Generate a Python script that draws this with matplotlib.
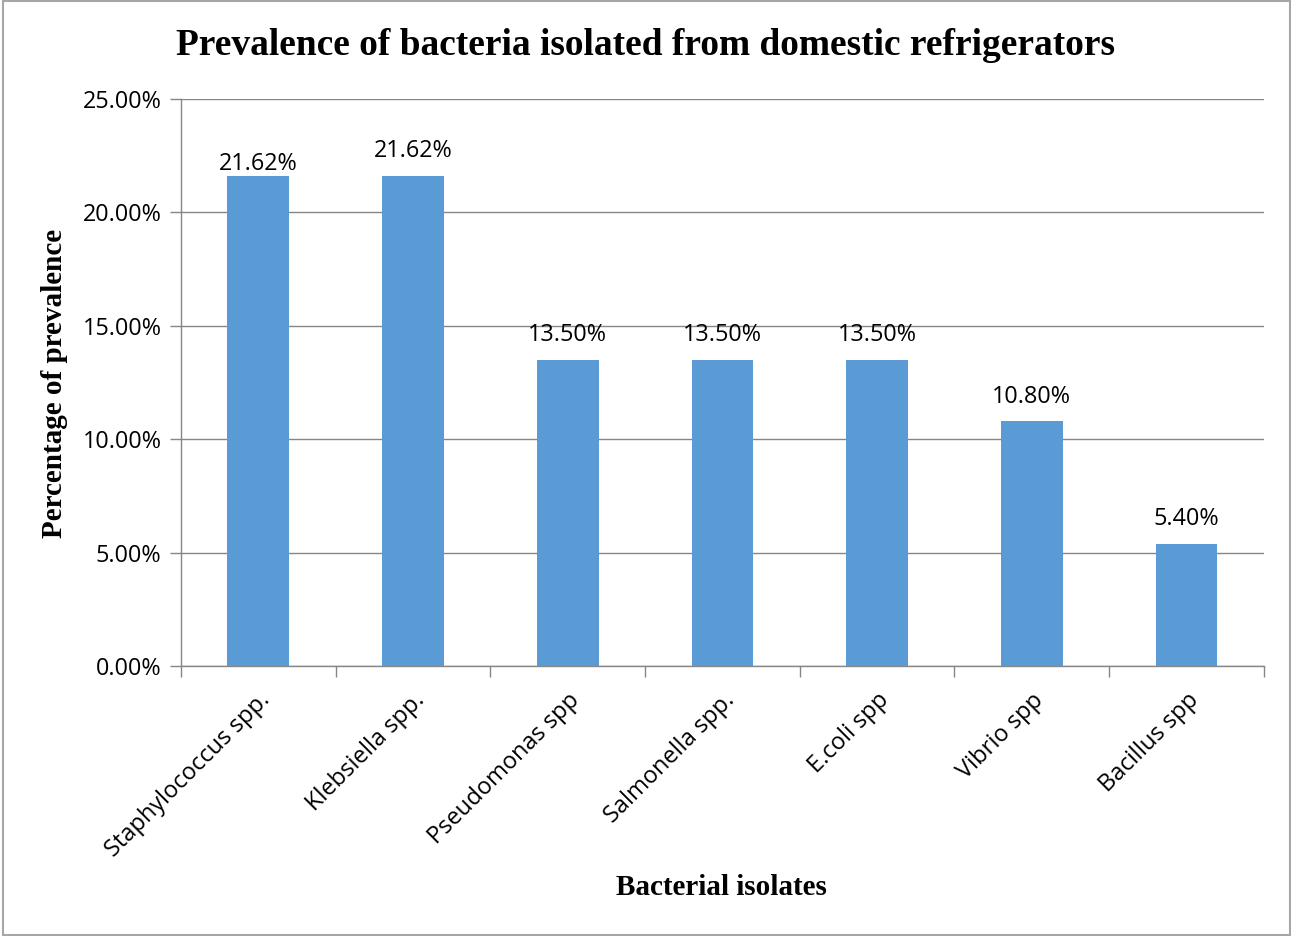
import matplotlib
matplotlib.use("Agg")
import matplotlib.pyplot as plt
from matplotlib.patches import Rectangle

isolates = ["Staphylococcus spp.", "Klebsiella spp.", "Pseudomonas spp", "Salmonella spp.",
            "E.coli spp", "Vibrio spp", "Bacillus spp"]
prevalence = [21.62, 21.62, 13.50, 13.50, 13.50, 10.80, 5.40]
yticks = [0, 5, 10, 15, 20, 25]

sans = ["Open Sans", "DejaVu Sans"]
serif = ["Liberation Serif", "DejaVu Serif"]
grid_col = "#868686"

fig = plt.figure(figsize=(12.91, 9.36), dpi=100)
fig.patches.append(Rectangle((0.002, 0.001), 0.997, 0.998, transform=fig.transFigure,
                             fill=False, edgecolor="#a6a6a6", linewidth=1.5))
ax = fig.add_axes([0.1402, 0.2885, 0.8388, 0.6057])

x = list(range(len(isolates)))
ax.bar(x, prevalence, width=0.4, color="#5B9BD5", zorder=3)
# value labels above bars; the first one sits a little lower
for xi, v in zip(x, prevalence):
    lift = 0 if xi == 0 else 9
    ax.annotate(f"{v:.2f}%", (xi, v), xytext=(0, lift), textcoords="offset points",
                ha="center", va="bottom", fontsize=16.8, family=sans, color="black")

ax.set_xlim(-0.5, len(isolates) - 0.5)
ax.set_ylim(0, 25)
ax.set_yticks(yticks)
ax.set_yticklabels([f"{t:.2f}%" for t in yticks], family=sans, fontsize=16.8)
ax.yaxis.grid(True, color=grid_col, linewidth=1.0, zorder=0)
ax.set_axisbelow(True)

ax.set_xticks([i - 0.5 for i in range(len(isolates) + 1)], minor=False)
ax.set_xticklabels([])
ax.set_xticks(x, minor=True)
ax.set_xticklabels(isolates, minor=True, rotation=45, ha="right", rotation_mode="anchor",
                   family=sans, fontsize=17)
ax.tick_params(axis="x", which="major", length=8, color=grid_col, width=1)
ax.tick_params(axis="x", which="minor", length=0, pad=16)
ax.tick_params(axis="y", length=8, color=grid_col, width=1, pad=6)

for s in ["top", "right"]:
    ax.spines[s].set_visible(False)
for s in ["left", "bottom"]:
    ax.spines[s].set_color(grid_col)
    ax.spines[s].set_linewidth(1.0)

fig.text(0.5, 0.951, "Prevalence of bacteria isolated from domestic refrigerators",
         ha="center", va="center", family=serif, fontweight="bold", fontsize=26.9)
fig.text(0.559, 0.052, "Bacterial isolates", ha="center", va="center",
         family=serif, fontweight="bold", fontsize=21)
fig.text(0.042, 0.59, "Percentage of prevalence", ha="center", va="center", rotation=90,
         family=serif, fontweight="bold", fontsize=21)

fig.savefig("out.png", dpi=100)
